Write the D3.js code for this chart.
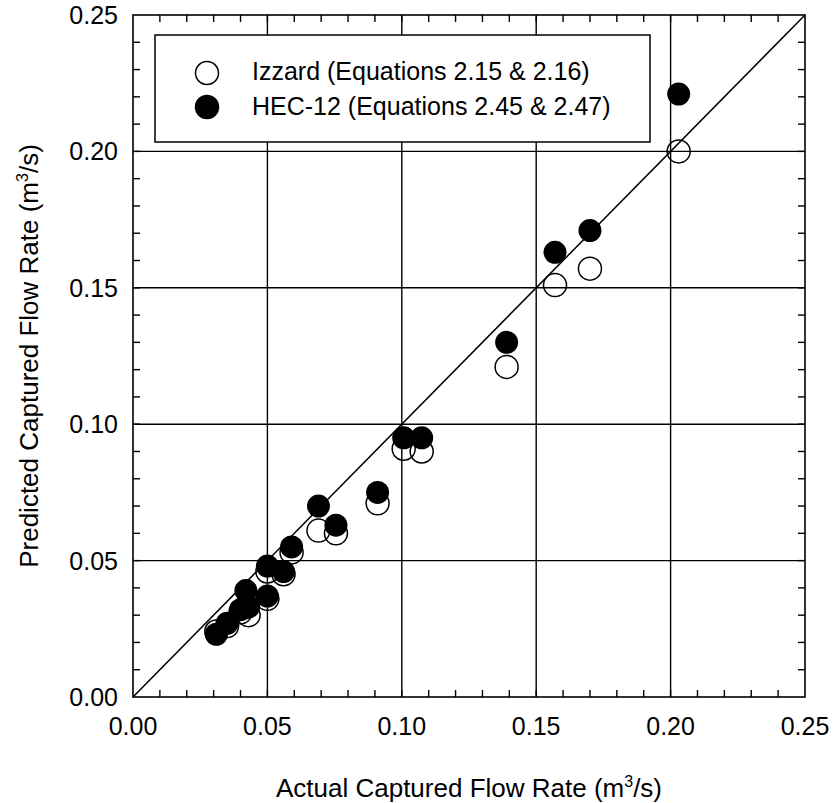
<!DOCTYPE html>
<html>
<head>
<meta charset="utf-8">
<script src="https://cdn.jsdelivr.net/npm/d3@7"></script>
<style>
  body{margin:0;background:#fff;}
  text{font-family:"Liberation Sans",Arial,Helvetica,sans-serif;fill:#000;}
</style>
</head>
<body>
<div id="root"></div>
<script>
// chart data
var actual  =[0.031,0.035,0.040,0.042,0.043,0.050,0.050,0.056,0.059,0.069,0.0755,0.091,0.1007,0.1074,0.139,0.157,0.170,0.203];
var izzard  =[0.024,0.026,0.031,0.033,0.030,0.036,0.046,0.045,0.053,0.061,0.060,0.071,0.091,0.090,0.121,0.151,0.157,0.200];
var hec12   =[0.023,0.027,0.032,0.039,0.033,0.037,0.048,0.046,0.055,0.070,0.063,0.075,0.095,0.095,0.130,0.163,0.171,0.221];
var majorTicks=[0,0.05,0.10,0.15,0.20,0.25];
var legendLabels=['Izzard (Equations 2.15 & 2.16)','HEC-12 (Equations 2.45 & 2.47)'];

var margin={t:15,r:28,b:106,l:133};
var W=833,H=803;
var w=W-margin.l-margin.r;
var h=H-margin.t-margin.b;

var svg=d3.select('#root').append('svg')
    .attr('width',W).attr('height',H)
    .append('g')
    .attr('transform','translate('+margin.l+','+margin.t+')');

var xScale=d3.scaleLinear().domain([0,0.25]).range([0,w]);
var yScale=d3.scaleLinear().domain([0,0.25]).range([h,0]);

var minor=d3.range(1,25).map(function(i){return i/100});
var tl=7;

// grid lines
svg.append('g').selectAll('line').data(majorTicks.slice(1,-1)).enter().append('line')
    .attr('x1',function(d){return xScale(d)}).attr('x2',function(d){return xScale(d)})
    .attr('y1',0).attr('y2',h).attr('stroke','#000').attr('stroke-width',1.4);
svg.append('g').selectAll('line').data(majorTicks.slice(1,-1)).enter().append('line')
    .attr('y1',function(d){return yScale(d)}).attr('y2',function(d){return yScale(d)})
    .attr('x1',0).attr('x2',w).attr('stroke','#000').attr('stroke-width',1.4);

// inward minor ticks on all four sides
var tg=svg.append('g').attr('stroke','#000').attr('stroke-width',1.4);
tg.selectAll('line.b').data(minor).enter().append('line').attr('class','b')
    .attr('x1',function(d){return xScale(d)}).attr('x2',function(d){return xScale(d)})
    .attr('y1',h).attr('y2',h-tl);
tg.selectAll('line.t').data(minor).enter().append('line').attr('class','t')
    .attr('x1',function(d){return xScale(d)}).attr('x2',function(d){return xScale(d)})
    .attr('y1',0).attr('y2',tl);
tg.selectAll('line.l').data(minor).enter().append('line').attr('class','l')
    .attr('y1',function(d){return yScale(d)}).attr('y2',function(d){return yScale(d)})
    .attr('x1',0).attr('x2',tl);
tg.selectAll('line.r').data(minor).enter().append('line').attr('class','r')
    .attr('y1',function(d){return yScale(d)}).attr('y2',function(d){return yScale(d)})
    .attr('x1',w).attr('x2',w-tl);

// frame
svg.append('rect').attr('width',w).attr('height',h)
    .attr('fill','none').attr('stroke','#000').attr('stroke-width',1.6);

// tick labels
var fmt=d3.format('.2f');
svg.append('g').selectAll('text').data(majorTicks).enter().append('text')
    .attr('x',function(d){return xScale(d)}).attr('y',h+38)
    .attr('text-anchor','middle').style('font-size','25px').text(fmt);
svg.append('g').selectAll('text').data(majorTicks).enter().append('text')
    .attr('x',-15).attr('y',function(d){return yScale(d)+9})
    .attr('text-anchor','end').style('font-size','25px').text(fmt);

// axis titles
var xTitle=svg.append('text').attr('x',w/2).attr('y',h+100).attr('text-anchor','middle').style('font-size','26px');
xTitle.append('tspan').text('Actual Captured Flow Rate (m');
xTitle.append('tspan').attr('dy',-10).style('font-size','16px').text('3');
xTitle.append('tspan').attr('dy',10).text('/s)');
var yTitle=svg.append('text').attr('transform','translate(-95,'+(h/2)+') rotate(-90)').attr('text-anchor','middle').style('font-size','26px');
yTitle.append('tspan').text('Predicted Captured Flow Rate (m');
yTitle.append('tspan').attr('dy',-10).style('font-size','16px').text('3');
yTitle.append('tspan').attr('dy',10).text('/s)');

// 1:1 line
svg.append('line')
    .attr('x1',xScale(0)).attr('y1',yScale(0)).attr('x2',xScale(0.25)).attr('y2',yScale(0.25))
    .attr('stroke','#000').attr('stroke-width',1.5);

// points: open first, filled on top
var R=11.5;
svg.append('g').selectAll('circle').data(actual).enter().append('circle')
    .attr('cx',function(d){return xScale(d)})
    .attr('cy',function(d,i){return yScale(izzard[i])})
    .attr('r',R).attr('fill','none').attr('stroke','#000').attr('stroke-width',1.5);
svg.append('g').selectAll('circle').data(actual).enter().append('circle')
    .attr('cx',function(d){return xScale(d)})
    .attr('cy',function(d,i){return yScale(hec12[i])})
    .attr('r',R).attr('fill','#000');

// legend
var lg=svg.append('g').attr('transform','translate(22,20)');
lg.append('rect').attr('width',495).attr('height',107)
    .attr('fill','#fff').attr('stroke','#000').attr('stroke-width',1.5);
lg.selectAll('circle').data(legendLabels).enter().append('circle')
    .attr('cx',52).attr('cy',function(d,i){return 38+i*34})
    .attr('r',R)
    .attr('fill',function(d,i){return i? '#000':'#fff'})
    .attr('stroke','#000').attr('stroke-width',1.5);
lg.selectAll('text').data(legendLabels).enter().append('text')
    .attr('x',97).attr('y',function(d,i){return 45+i*35})
    .style('font-size','25px').text(function(d){return d});
</script>
</body>
</html>
